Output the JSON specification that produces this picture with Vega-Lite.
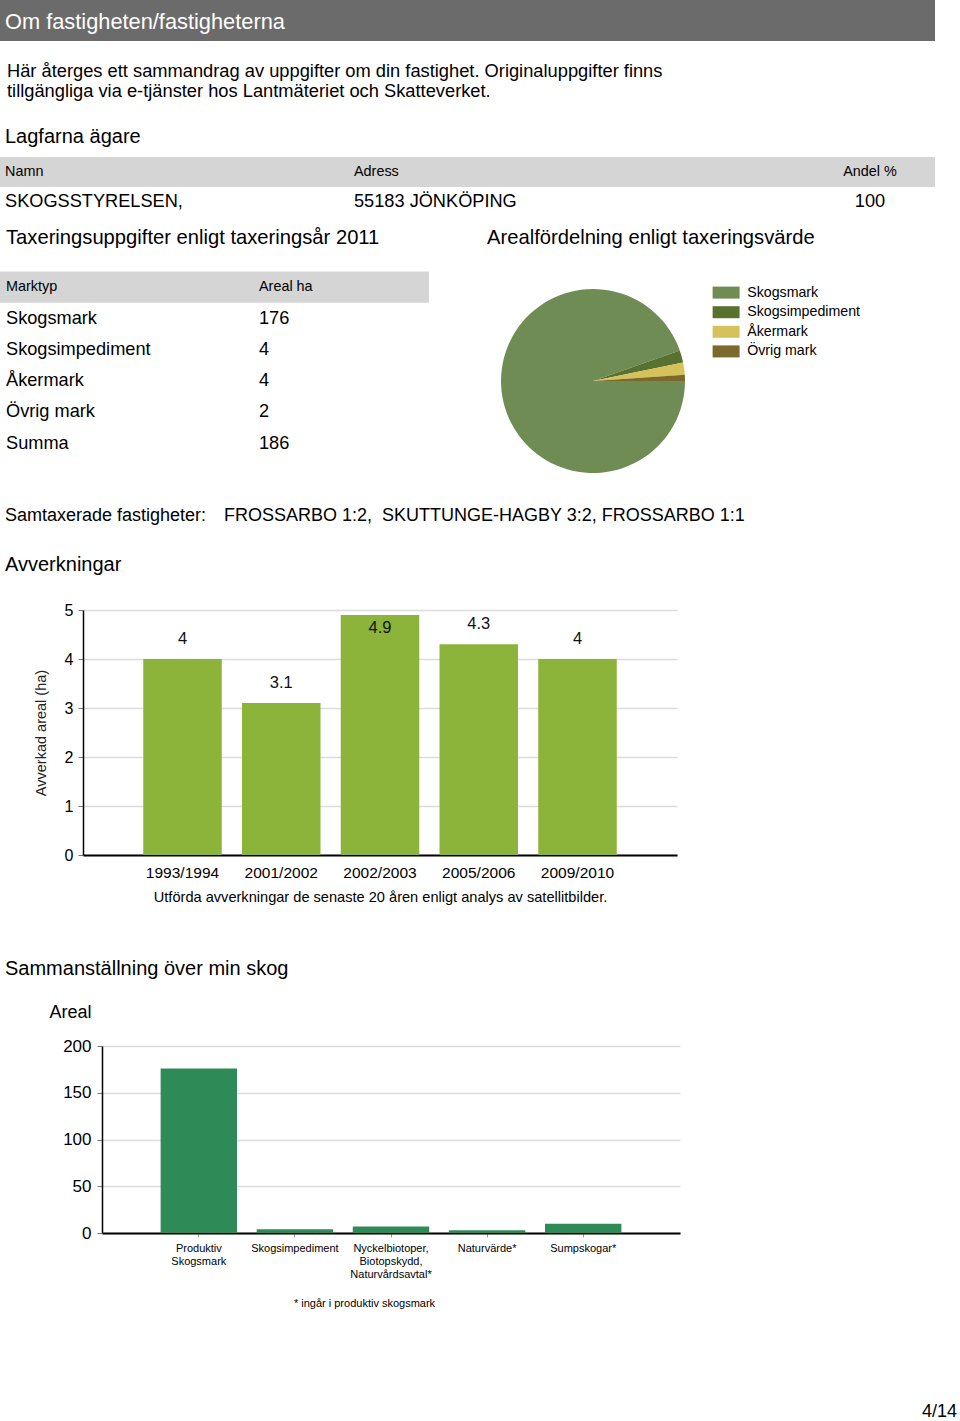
{
"$schema": "https://vega.github.io/schema/vega-lite/v6.json",
"padding": 0,
"background": "#ffffff",
"spacing": 0,
"config": {"font": "Liberation Sans", "view": {"stroke": null}},
"datasets": {
  "marktyp": [
    {"Marktyp": "Skogsmark", "Areal ha": 176},
    {"Marktyp": "Skogsimpediment", "Areal ha": 4},
    {"Marktyp": "Åkermark", "Areal ha": 4},
    {"Marktyp": "Övrig mark", "Areal ha": 2},
    {"Marktyp": "Summa", "Areal ha": 186}
  ],
  "samtax": [{"etikett": "Samtaxerade fastigheter:", "fastigheter": "FROSSARBO 1:2,\u00a0 SKUTTUNGE-HAGBY 3:2, FROSSARBO 1:1"}]
},
"vconcat": [
  {"width": 935, "height": 41, "view": {"fill": "#6b6b6b", "stroke": null},
   "data": {"values": [{"rubrik": "Om fastigheten/fastigheterna"}]},
   "mark": {"type": "text", "align": "left", "baseline": "middle", "dx": 5, "dy": 1, "fontSize": 21.8, "color": "#ffffff"},
   "encoding": {"x": {"datum": "v", "type": "nominal", "axis": null, "scale": {"type": "point", "align": 0}}, "text": {"field": "rubrik"}}},
  {"width": 935, "height": 80,
   "data": {"values": [{"rad": 1, "text": "Här återges ett sammandrag av uppgifter om din fastighet. Originaluppgifter finns"}, {"rad": 2, "text": "tillgängliga via e-tjänster hos Lantmäteriet och Skatteverket."}]},
   "mark": {"type": "text", "align": "left", "baseline": "middle", "dx": 7, "dy": 0.5, "fontSize": 18.3, "color": "#000"},
   "encoding": {"x": {"datum": "v", "type": "nominal", "axis": null, "scale": {"type": "point", "align": 0}},
                "y": {"field": "rad", "type": "ordinal", "axis": null, "scale": {"type": "band", "paddingInner": 0, "paddingOuter": 1}},
                "text": {"field": "text"}}},
  {"width": 935, "height": 32,
   "data": {"values": [{"rubrik": "Lagfarna ägare"}]},
   "mark": {"type": "text", "align": "left", "baseline": "middle", "dx": 5, "fontSize": 20, "color": "#000"},
   "encoding": {"x": {"datum": "v", "type": "nominal", "axis": null, "scale": {"type": "point", "align": 0}}, "text": {"field": "rubrik"}}},
  {"hconcat": [
    {"width": 349, "height": 68,
     "data": {"values": [{"rad": "rubrik", "text": "Namn"}, {"rad": "värde", "text": "SKOGSSTYRELSEN,"}]},
     "encoding": {"y": {"field": "rad", "type": "nominal", "axis": null, "scale": {"type": "band", "domain": ["rubrik", "värde"], "paddingInner": 0, "paddingOuter": 0.1333}}},
     "layer": [
       {"transform": [{"filter": "datum.rad === 'rubrik'"}], "mark": {"type": "rect", "color": "#d5d5d5"}},
       {"transform": [{"filter": "datum.rad === 'rubrik'"}], "mark": {"type": "text", "align": "left", "baseline": "middle", "dx": 5, "fontSize": 14.4, "color": "#000"},
        "encoding": {"x": {"datum": "v", "type": "nominal", "axis": null, "scale": {"type": "point", "align": 0}}, "text": {"field": "text"}}},
       {"transform": [{"filter": "datum.rad === 'värde'"}], "mark": {"type": "text", "align": "left", "baseline": "middle", "dx": 5, "fontSize": 18.2, "color": "#000"},
        "encoding": {"x": {"datum": "v", "type": "nominal", "axis": null, "scale": {"type": "point", "align": 0}}, "text": {"field": "text"}}}
     ]},
    {"width": 456, "height": 68,
     "data": {"values": [{"rad": "rubrik", "text": "Adress"}, {"rad": "värde", "text": "55183 JÖNKÖPING"}]},
     "encoding": {"y": {"field": "rad", "type": "nominal", "axis": null, "scale": {"type": "band", "domain": ["rubrik", "värde"], "paddingInner": 0, "paddingOuter": 0.1333}}},
     "layer": [
       {"transform": [{"filter": "datum.rad === 'rubrik'"}], "mark": {"type": "rect", "color": "#d5d5d5"}},
       {"transform": [{"filter": "datum.rad === 'rubrik'"}], "mark": {"type": "text", "align": "left", "baseline": "middle", "dx": 5, "fontSize": 14.4, "color": "#000"},
        "encoding": {"x": {"datum": "v", "type": "nominal", "axis": null, "scale": {"type": "point", "align": 0}}, "text": {"field": "text"}}},
       {"transform": [{"filter": "datum.rad === 'värde'"}], "mark": {"type": "text", "align": "left", "baseline": "middle", "dx": 5, "fontSize": 18.2, "color": "#000"},
        "encoding": {"x": {"datum": "v", "type": "nominal", "axis": null, "scale": {"type": "point", "align": 0}}, "text": {"field": "text"}}}
     ]},
    {"width": 130, "height": 68,
     "data": {"values": [{"rad": "rubrik", "text": "Andel %"}, {"rad": "värde", "text": 100}]},
     "encoding": {"y": {"field": "rad", "type": "nominal", "axis": null, "scale": {"type": "band", "domain": ["rubrik", "värde"], "paddingInner": 0, "paddingOuter": 0.1333}}},
     "layer": [
       {"transform": [{"filter": "datum.rad === 'rubrik'"}], "mark": {"type": "rect", "color": "#d5d5d5"}},
       {"transform": [{"filter": "datum.rad === 'rubrik'"}], "mark": {"type": "text", "align": "center", "baseline": "middle", "fontSize": 14.4, "color": "#000"},
        "encoding": {"x": {"datum": "c", "type": "nominal", "axis": null, "scale": {"type": "point"}}, "text": {"field": "text"}}},
       {"transform": [{"filter": "datum.rad === 'värde'"}], "mark": {"type": "text", "align": "center", "baseline": "middle", "fontSize": 18.2, "color": "#000"},
        "encoding": {"x": {"datum": "c", "type": "nominal", "axis": null, "scale": {"type": "point"}}, "text": {"field": "text"}}}
     ]}
  ], "spacing": 0, "bounds": "flush"},
  {"width": 481, "height": 34,
   "data": {"values": [{"kol": "vänster", "text": "Taxeringsuppgifter enligt taxeringsår 2011"}, {"kol": "höger", "text": "Arealfördelning enligt taxeringsvärde"}]},
   "mark": {"type": "text", "align": "left", "baseline": "middle", "dx": 6, "fontSize": 20.2, "color": "#000"},
   "encoding": {"x": {"field": "kol", "type": "nominal", "sort": null, "axis": null, "scale": {"type": "point", "padding": 0}}, "text": {"field": "text"}}},
  {"hconcat": [
    {"width": 253, "height": 221,
     "layer": [
       {"data": {"values": [{"rubrik": "Marktyp"}]}, "mark": {"type": "rect", "color": "#d5d5d5"},
        "encoding": {"y": {"datum": "rubrik", "type": "nominal", "axis": null, "scale": {"type": "band", "domain": ["rubrik", "Skogsmark", "Skogsimpediment", "Åkermark", "Övrig mark", "Summa"], "paddingInner": 0, "paddingOuter": 0.527}}}},
       {"data": {"values": [{"rubrik": "Marktyp"}]}, "mark": {"type": "text", "align": "left", "baseline": "middle", "dx": 6, "fontSize": 14.4, "color": "#000"},
        "encoding": {"y": {"datum": "rubrik", "type": "nominal", "axis": null, "scale": {"type": "band", "domain": ["rubrik", "Skogsmark", "Skogsimpediment", "Åkermark", "Övrig mark", "Summa"], "paddingInner": 0, "paddingOuter": 0.527}},
                     "x": {"datum": "v", "type": "nominal", "axis": null, "scale": {"type": "point", "align": 0}}, "text": {"field": "rubrik"}}},
       {"data": {"name": "marktyp"}, "mark": {"type": "text", "align": "left", "baseline": "middle", "dx": 6, "fontSize": 18.2, "color": "#000"},
        "encoding": {"y": {"field": "Marktyp", "type": "nominal", "axis": null, "scale": {"type": "band", "domain": ["rubrik", "Skogsmark", "Skogsimpediment", "Åkermark", "Övrig mark", "Summa"], "paddingInner": 0, "paddingOuter": 0.527}},
                     "x": {"datum": "v", "type": "nominal", "axis": null, "scale": {"type": "point", "align": 0}}, "text": {"field": "Marktyp"}}}
     ]},
    {"width": 176, "height": 221,
     "layer": [
       {"data": {"values": [{"rubrik": "Areal ha"}]}, "mark": {"type": "rect", "color": "#d5d5d5"},
        "encoding": {"y": {"datum": "rubrik", "type": "nominal", "axis": null, "scale": {"type": "band", "domain": ["rubrik", "Skogsmark", "Skogsimpediment", "Åkermark", "Övrig mark", "Summa"], "paddingInner": 0, "paddingOuter": 0.527}}}},
       {"data": {"values": [{"rubrik": "Areal ha"}]}, "mark": {"type": "text", "align": "left", "baseline": "middle", "dx": 6, "fontSize": 14.4, "color": "#000"},
        "encoding": {"y": {"datum": "rubrik", "type": "nominal", "axis": null, "scale": {"type": "band", "domain": ["rubrik", "Skogsmark", "Skogsimpediment", "Åkermark", "Övrig mark", "Summa"], "paddingInner": 0, "paddingOuter": 0.527}},
                     "x": {"datum": "v", "type": "nominal", "axis": null, "scale": {"type": "point", "align": 0}}, "text": {"field": "rubrik"}}},
       {"data": {"name": "marktyp"}, "mark": {"type": "text", "align": "left", "baseline": "middle", "dx": 6, "fontSize": 18.2, "color": "#000"},
        "encoding": {"y": {"field": "Marktyp", "type": "nominal", "axis": null, "scale": {"type": "band", "domain": ["rubrik", "Skogsmark", "Skogsimpediment", "Åkermark", "Övrig mark", "Summa"], "paddingInner": 0, "paddingOuter": 0.527}},
                     "x": {"datum": "v", "type": "nominal", "axis": null, "scale": {"type": "point", "align": 0}}, "text": {"field": "Areal ha", "type": "quantitative"}}}
     ]},
    {"width": 72, "height": 1, "data": {"values": []}, "mark": "point"},
    {"width": 184, "height": 252,
     "data": {"name": "marktyp"},
     "transform": [{"filter": "datum.Marktyp !== 'Summa'"}],
     "mark": {"type": "arc", "strokeWidth": 0},
     "encoding": {
       "theta": {"field": "Areal ha", "type": "quantitative", "stack": true, "scale": {"range": [1.5708, 7.854]}},
       "order": {"field": "Areal ha", "sort": "descending"},
       "color": {"field": "Marktyp", "type": "nominal", "sort": null,
                 "scale": {"domain": ["Skogsmark", "Skogsimpediment", "Åkermark", "Övrig mark"], "range": ["#6f8c55", "#58712f", "#d5c25b", "#7c6a2d"]},
                 "legend": {"title": null, "orient": "none", "legendX": 719, "legendY": 285.5, "padding": 0,
                            "symbolType": "M-2,-0.89H2V0.89H-2Z", "symbolSize": 182, "symbolStrokeWidth": 0, "symbolOpacity": 1,
                            "labelFontSize": 14.2, "labelColor": "#000", "labelOffset": 14, "rowPadding": 4.6}}
     }}
  ], "spacing": 0, "bounds": "flush"},
  {"hconcat": [
    {"width": 219, "height": 18, "data": {"name": "samtax"},
     "mark": {"type": "text", "align": "left", "baseline": "middle", "dx": 5, "fontSize": 18, "color": "#000"},
     "encoding": {"x": {"datum": "v", "type": "nominal", "axis": null, "scale": {"type": "point", "align": 0}}, "text": {"field": "etikett"}}},
    {"width": 716, "height": 18, "data": {"name": "samtax"},
     "mark": {"type": "text", "align": "left", "baseline": "middle", "dx": 5, "fontSize": 18, "color": "#000"},
     "encoding": {"x": {"datum": "v", "type": "nominal", "axis": null, "scale": {"type": "point", "align": 0}}, "text": {"field": "fastigheter"}}}
  ], "spacing": 0, "bounds": "flush"},
  {"width": 935, "height": 77,
   "data": {"values": [{"rubrik": "Avverkningar"}]},
   "mark": {"type": "text", "align": "left", "baseline": "middle", "dx": 5, "dy": 1.5, "fontSize": 20, "color": "#000"},
   "encoding": {"x": {"datum": "v", "type": "nominal", "axis": null, "scale": {"type": "point", "align": 0}}, "text": {"field": "rubrik"}}},
  {"hconcat": [
    {"width": 83, "height": 1, "data": {"values": []}, "mark": "point"},
    {"width": 594, "height": 245,
     "data": {"values": [
       {"period": "1993/1994", "areal": 4},
       {"period": "2001/2002", "areal": 3.1},
       {"period": "2002/2003", "areal": 4.9},
       {"period": "2005/2006", "areal": 4.3},
       {"period": "2009/2010", "areal": 4}
     ]},
     "encoding": {
       "x": {"field": "period", "type": "nominal", "sort": null, "scale": {"paddingInner": 0.205, "paddingOuter": 0.61},
             "axis": {"title": "Utförda avverkningar de senaste 20 åren enligt analys av satellitbilder.", "labelAngle": 0, "labelFontSize": 15.5, "labelColor": "#000", "labelPadding": 10, "labelOverlap": false, "ticks": false, "tickSize": 0, "domainColor": "#000", "domainWidth": 2, "titleFontSize": 14.6, "titleFontWeight": "normal", "titleColor": "#000", "titlePadding": 9}},
       "y": {"field": "areal", "type": "quantitative", "scale": {"domain": [0, 5], "nice": false},
             "axis": {"values": [0, 1, 2, 3, 4, 5], "title": "Avverkad areal (ha)", "titleFontSize": 14.5, "titleFontWeight": "normal", "titleColor": "#222", "titlePadding": 16, "labelFontSize": 16, "labelColor": "#000", "labelPadding": 5, "tickSize": 5, "tickColor": "#777", "domainColor": "#000", "domainWidth": 1.5, "gridColor": "#dcdcdc", "gridWidth": 1.5}}
     },
     "layer": [
       {"mark": {"type": "bar", "color": "#8cb33a"}},
       {"mark": {"type": "text", "fontSize": 16.5, "baseline": "middle", "color": "#111", "dy": {"expr": "datum.areal > 4.5 ? 13 : -20"}},
        "encoding": {"text": {"field": "areal", "type": "quantitative"}}}
     ]}
  ], "spacing": 0, "bounds": "flush"},
  {"width": 935, "height": 98,
   "data": {"values": [{"rubrik": "Sammanställning över min skog"}]},
   "mark": {"type": "text", "align": "left", "baseline": "middle", "dx": 5, "dy": 14.5, "fontSize": 20, "color": "#000"},
   "encoding": {"x": {"datum": "v", "type": "nominal", "axis": null, "scale": {"type": "point", "align": 0}}, "text": {"field": "rubrik"}}},
  {"hconcat": [
    {"width": 102, "height": 1, "data": {"values": []}, "mark": "point"},
    {"width": 578, "height": 187,
     "data": {"values": [
       {"kategori": "Produktiv Skogsmark", "areal": 176},
       {"kategori": "Skogsimpediment", "areal": 4},
       {"kategori": "Nyckelbiotoper, Biotopskydd, Naturvårdsavtal*", "areal": 7},
       {"kategori": "Naturvärde*", "areal": 3},
       {"kategori": "Sumpskogar*", "areal": 10}
     ]},
     "mark": {"type": "bar", "color": "#2e8b57"},
     "encoding": {
       "x": {"field": "kategori", "type": "nominal", "sort": null, "scale": {"paddingInner": 0.205, "paddingOuter": 0.61},
             "axis": {"title": "* ingår i produktiv skogsmark", "labelAngle": 0, "labelFontSize": 11, "labelColor": "#000", "labelLineHeight": 13, "labelPadding": 5, "labelOverlap": false, "labelLimit": 0,
                      "labelExpr": "datum.value === 'Produktiv Skogsmark' ? ['Produktiv', 'Skogsmark'] : datum.value === 'Nyckelbiotoper, Biotopskydd, Naturvårdsavtal*' ? ['Nyckelbiotoper,', 'Biotopskydd,', 'Naturvårdsavtal*'] : datum.value",
                      "tickSize": 4, "tickColor": "#999", "domainColor": "#000", "domainWidth": 2,
                      "titleFontSize": 11, "titleFontWeight": "normal", "titleColor": "#000", "titleX": 262, "titleY": 70, "titleAlign": "center", "titleBaseline": "middle"}},
       "y": {"field": "areal", "type": "quantitative", "scale": {"domain": [0, 200], "nice": false},
             "axis": {"values": [0, 50, 100, 150, 200], "title": "Areal", "titleAngle": 0, "titleAlign": "left", "titleBaseline": "middle", "titleX": -53, "titleY": -34, "titleFontSize": 18, "titleFontWeight": "normal", "titleColor": "#000",
                      "labelFontSize": 17, "labelColor": "#000", "labelPadding": 6, "tickSize": 5, "tickColor": "#777", "domainColor": "#000", "domainWidth": 1.5, "gridColor": "#dcdcdc", "gridWidth": 1.5}}
     }}
  ], "spacing": 0, "bounds": "flush"},
  {"width": 1, "height": 95, "data": {"values": []}, "mark": "point"},
  {"width": 957, "height": 18,
   "data": {"values": [{"sida": "4/14"}]},
   "mark": {"type": "text", "align": "right", "baseline": "middle", "fontSize": 18, "color": "#000"},
   "encoding": {"x": {"datum": "h", "type": "nominal", "axis": null, "scale": {"type": "point", "align": 1}}, "text": {"field": "sida"}}}
]
}
